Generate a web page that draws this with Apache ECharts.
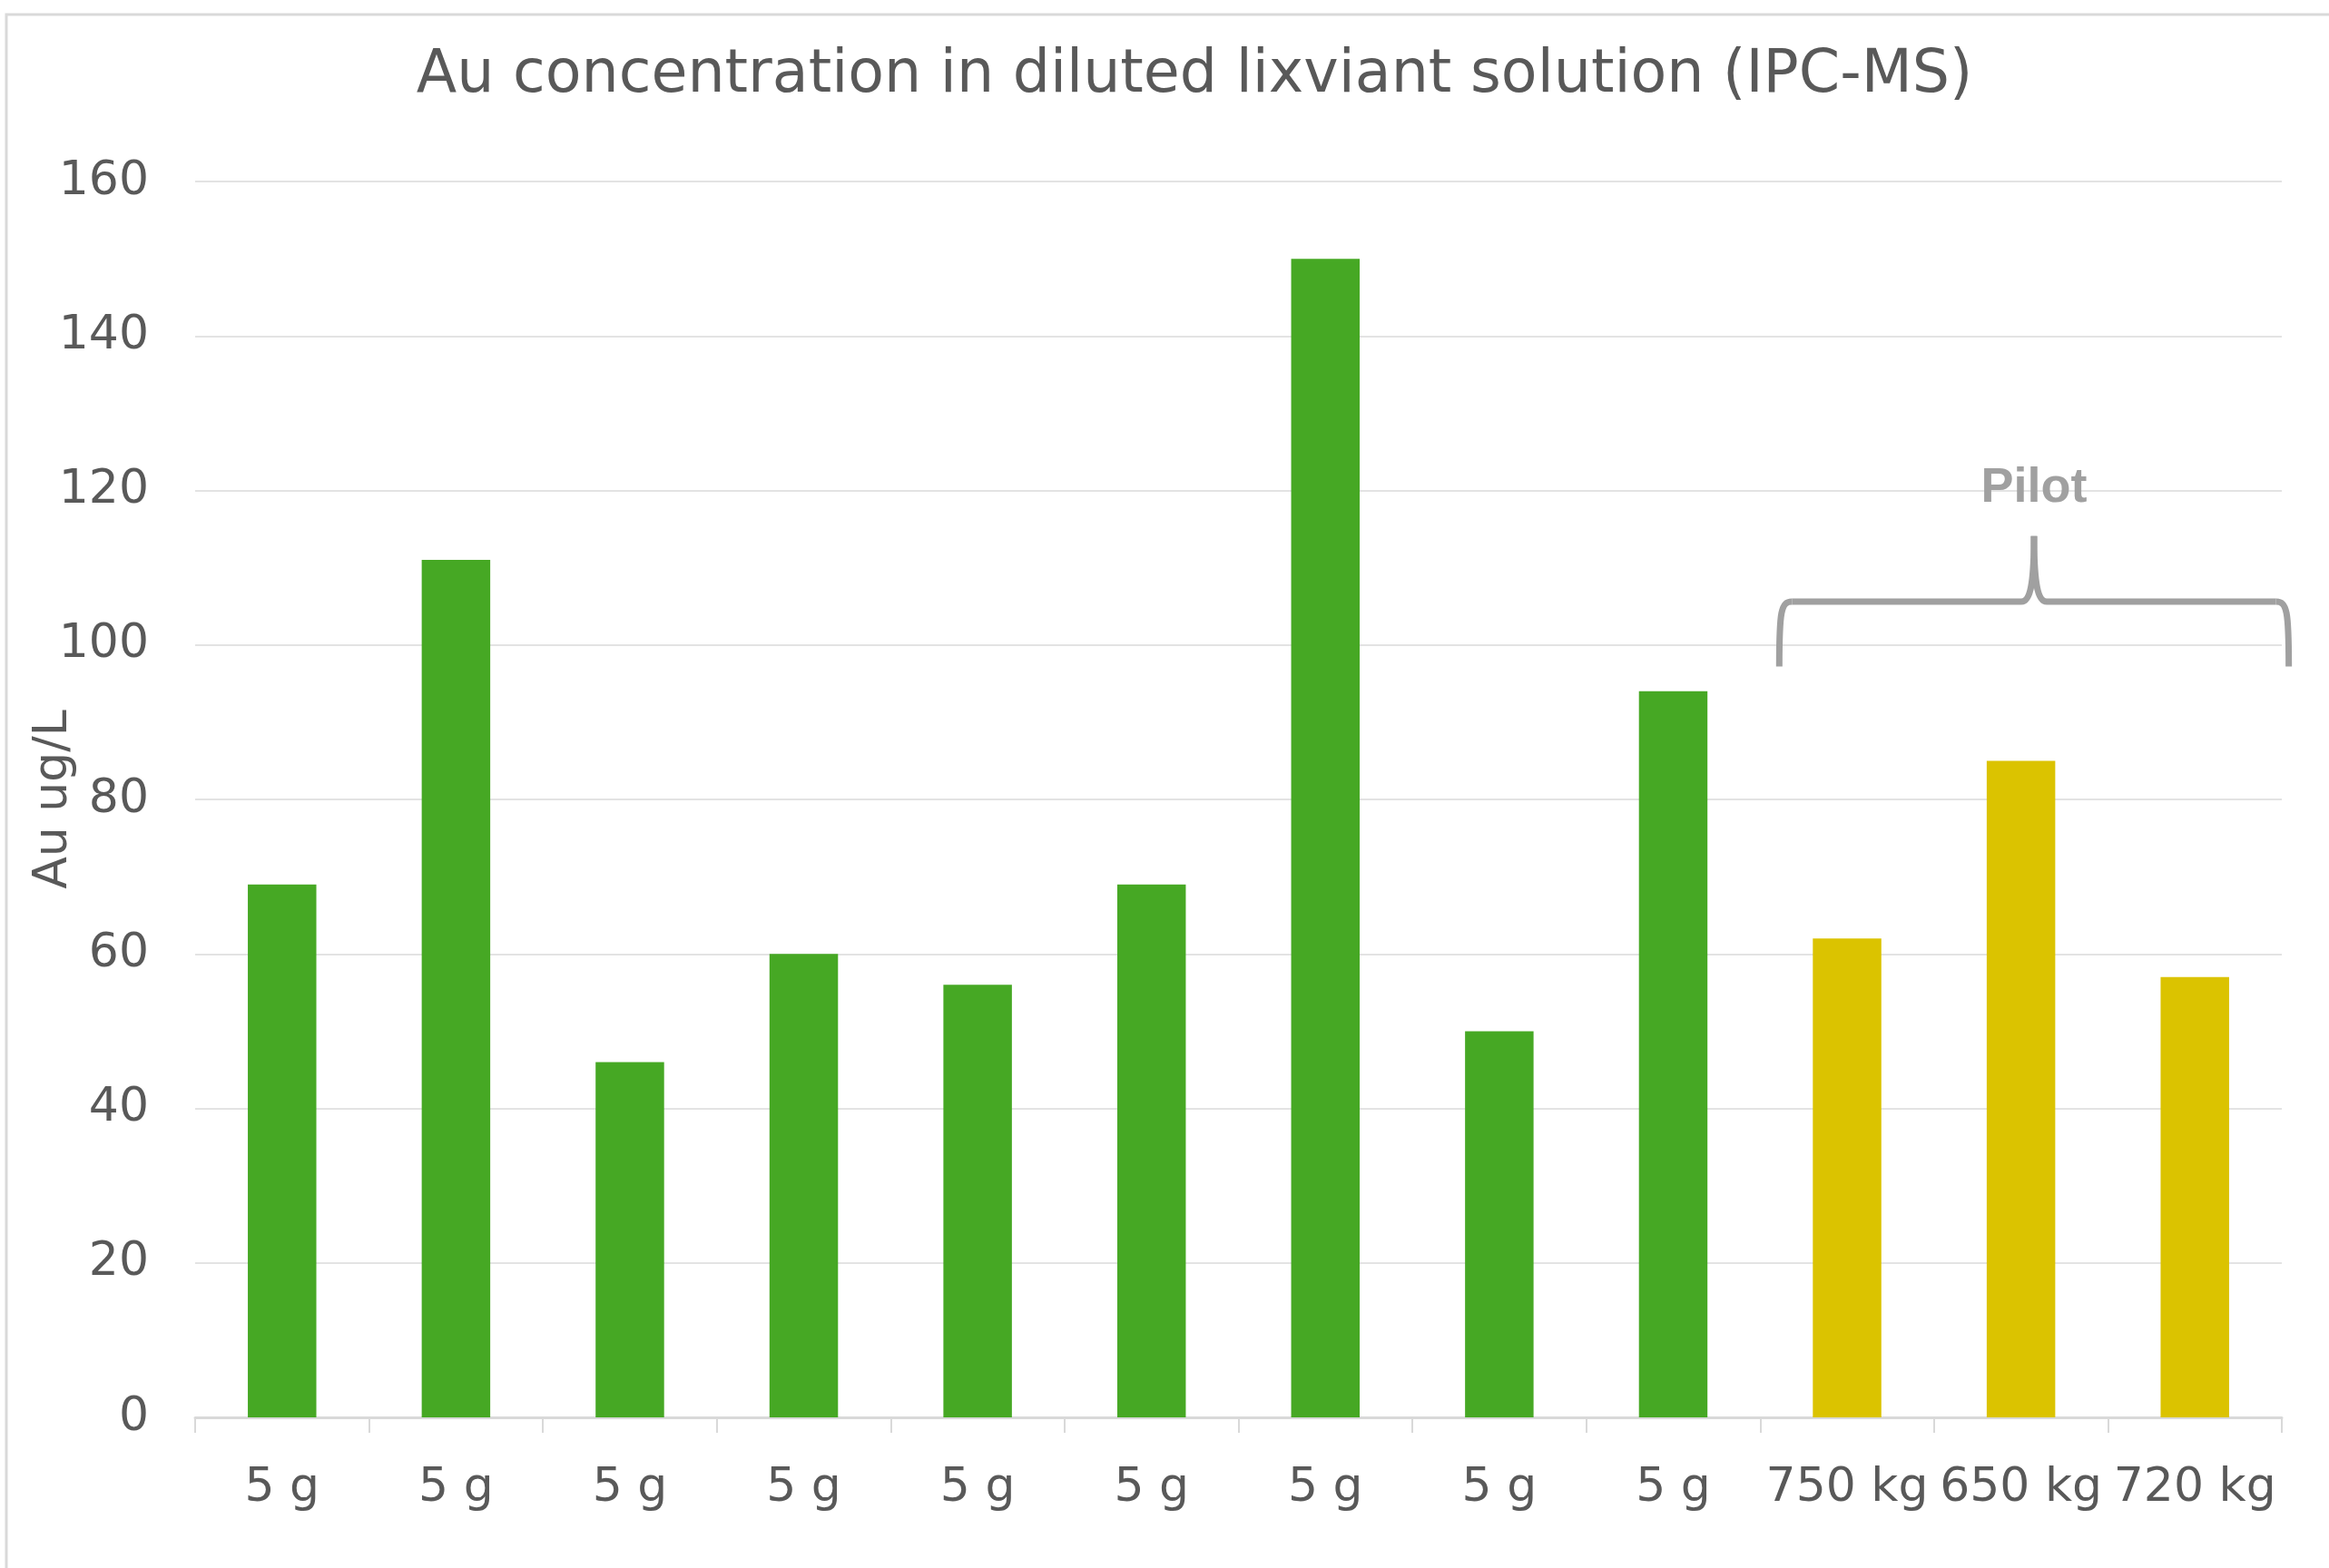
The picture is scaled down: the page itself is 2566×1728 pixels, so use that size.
<!DOCTYPE html>
<html>
<head>
<meta charset="utf-8">
<script src="https://cdn.jsdelivr.net/npm/echarts@6/dist/echarts.min.js"></script>
<style>
  html, body { margin: 0; padding: 0; background: #fff; }
  #chart { width: 2566px; height: 1728px; }
</style>
</head>
<body>
<div id="chart"></div>
<script>
// 数据
const categories = ['5 g', '5 g', '5 g', '5 g', '5 g', '5 g', '5 g', '5 g', '5 g', '750 kg', '650 kg', '720 kg'];
const values = [69, 111, 46, 60, 56, 69, 150, 50, 94, 62, 85, 57];
const isPilot = [false, false, false, false, false, false, false, false, false, true, true, true];
const yTicks = [0, 20, 40, 60, 80, 100, 120, 140, 160];

const GREEN = '#46A824';
const YELLOW = '#DBC300';
const TEXT = '#595959';
const BRACKET = '#A0A0A0';
const FONT = '"DejaVu Sans", Verdana, sans-serif';

const chart = echarts.init(document.getElementById('chart'));

chart.setOption({
  animation: false,
  title: {
    text: 'Au concentration in diluted lixviant solution (IPC-MS)',
    left: 1311,
    top: 47,
    textAlign: 'center',
    textStyle: { color: TEXT, fontFamily: FONT, fontSize: 65, fontWeight: 'normal' }
  },
  grid: { left: 215, right: 52, top: 200, bottom: 166, containLabel: false, outerBoundsMode: 'none' },
  xAxis: {
    type: 'category',
    data: categories,
    axisLine: { lineStyle: { color: '#d9d9d9', width: 3 } },
    axisTick: { show: true, length: 17, lineStyle: { color: '#d9d9d9', width: 2 } },
    axisLabel: { color: TEXT, fontFamily: FONT, fontSize: 52, margin: 52, interval: 0 }
  },
  yAxis: {
    type: 'value',
    min: yTicks[0],
    max: yTicks[yTicks.length - 1],
    interval: 20,
    name: 'Au ug/L',
    nameLocation: 'middle',
    nameGap: 130,
    nameMoveOverlap: false,
    nameTextStyle: { color: TEXT, fontFamily: FONT, fontSize: 52 },
    axisLine: { show: false },
    axisTick: { show: false },
    axisLabel: { color: TEXT, fontFamily: FONT, fontSize: 52, margin: 51 },
    splitLine: { lineStyle: { color: '#e3e3e3', width: 2 } }
  },
  series: [{
    type: 'bar',
    barWidth: '39.4%',
    data: values.map((v, i) => ({
      value: v,
      itemStyle: { color: isPilot[i] ? YELLOW : GREEN }
    }))
  }]
});

// Pilot 括号注释
function drawBracket() {
  const c0 = chart.convertToPixel({ xAxisIndex: 0 }, 0);
  const c1 = chart.convertToPixel({ xAxisIndex: 0 }, 1);
  const band = c1 - c0;
  const xL = chart.convertToPixel({ xAxisIndex: 0 }, 9) - 0.39 * band;
  const xM = chart.convertToPixel({ xAxisIndex: 0 }, 10) + 0.075 * band;
  const xR = chart.convertToPixel({ xAxisIndex: 0 }, 11) + 0.54 * band;
  const yEnd = chart.convertToPixel({ yAxisIndex: 0 }, 97.2);
  const yH = chart.convertToPixel({ yAxisIndex: 0 }, 105.6);
  const yTop = chart.convertToPixel({ yAxisIndex: 0 }, 114.1);
  const yText = chart.convertToPixel({ yAxisIndex: 0 }, 120.3);
  const st = { stroke: BRACKET, lineWidth: 7, fill: null, lineCap: 'butt' };
  const r = 14;
  chart.setOption({
    graphic: [
      {
        type: 'rect', silent: true, z: -10,
        shape: { x: 7, y: 16, width: 3000, height: 3000 },
        style: { fill: null, stroke: '#d9d9d9', lineWidth: 3 }
      },
      {
        type: 'group', silent: true,
        children: [
          { type: 'bezierCurve', shape: { x1: xL, y1: yEnd, cpx1: xL, cpy1: yH + 10, cpx2: xL + 2, cpy2: yH, x2: xL + r, y2: yH }, style: st },
          { type: 'line', shape: { x1: xL + r, y1: yH, x2: xM - r, y2: yH }, style: st },
          { type: 'bezierCurve', shape: { x1: xM - r, y1: yH, cpx1: xM - 3, cpy1: yH, cpx2: xM, cpy2: yH - 25, x2: xM, y2: yTop }, style: st },
          { type: 'bezierCurve', shape: { x1: xM, y1: yTop, cpx1: xM, cpy1: yH - 25, cpx2: xM + 3, cpy2: yH, x2: xM + r, y2: yH }, style: st },
          { type: 'line', shape: { x1: xM + r, y1: yH, x2: xR - r, y2: yH }, style: st },
          { type: 'bezierCurve', shape: { x1: xR - r, y1: yH, cpx1: xR - 2, cpy1: yH, cpx2: xR, cpy2: yH + 10, x2: xR, y2: yEnd }, style: st },
          {
            type: 'text',
            style: {
              text: 'Pilot', x: xM, y: yText,
              align: 'center', verticalAlign: 'middle',
              fill: BRACKET, fontFamily: '"Liberation Sans", Arial, sans-serif',
              fontSize: 54, fontWeight: 'bold'
            }
          }
        ]
      }
    ]
  });
}
drawBracket();
</script>
</body>
</html>
